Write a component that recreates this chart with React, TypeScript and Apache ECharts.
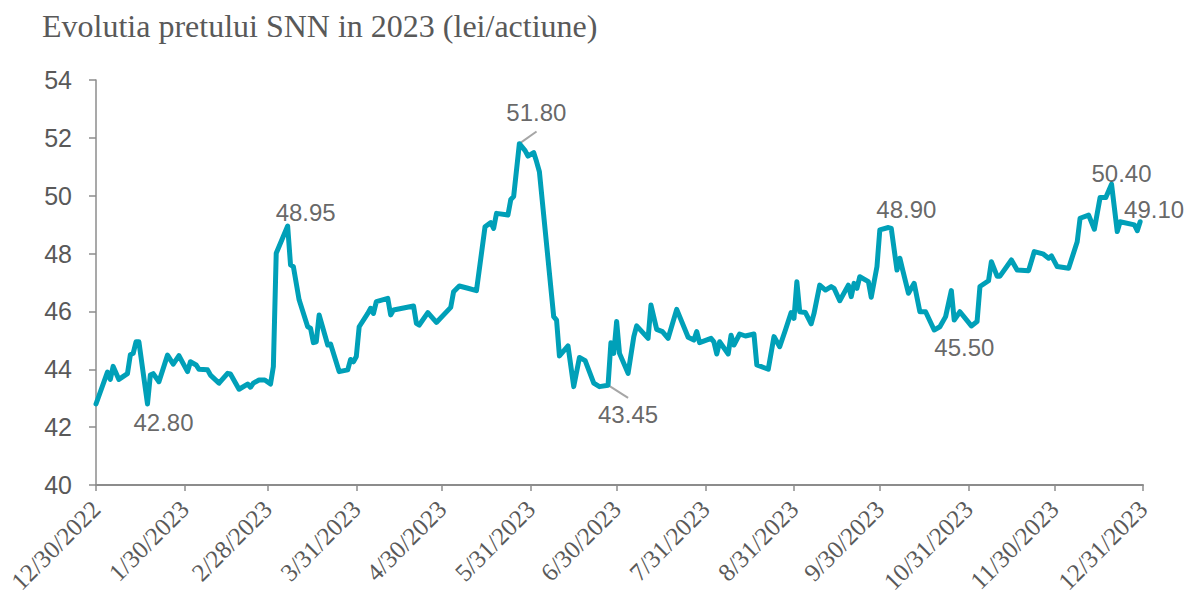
import React, { useEffect, useRef } from "react";
import * as echarts from "echarts";

// Trading-day offsets (days since 12/30/2022) and closing prices (lei/actiune)
const dayOffsets: number[] = [
  0, 4, 5, 6, 8, 11, 12, 13, 14, 15, 18, 19, 20, 22, 25, 27, 29, 32, 33, 35,
  36, 39, 40, 43, 46, 47, 50, 53, 54, 55, 57, 59, 61, 62, 63, 67, 68, 69, 71, 74,
  75, 76, 77, 78, 81, 82, 85, 88, 89, 90, 91, 92, 95, 96, 97, 98, 102, 103, 104, 111,
  112, 113, 116, 119, 124, 125, 127, 130, 133, 136, 138, 139, 140, 144, 145, 146, 148, 150, 151, 153,
  154, 155, 160, 161, 162, 165, 167, 169, 171, 174, 176, 179, 180, 181, 182, 183, 186, 188, 189, 193,
  194, 196, 198, 200, 203, 207, 209, 210, 211, 215, 216, 217, 218, 221, 222, 223, 225, 227, 230, 231,
  235, 237, 239, 241, 243, 244, 245, 246, 248, 250, 251, 253, 255, 257, 258, 260, 263, 264, 265, 266,
  267, 270, 271, 273, 274, 277, 278, 280, 281, 282, 284, 286, 288, 290, 293, 295, 297, 299, 300, 302,
  306, 308, 309, 312, 313, 315, 316, 320, 322, 326, 328, 331, 333, 334, 336, 340, 343, 344, 347, 349,
  351, 353, 355, 357, 358, 363, 364, 365,
];
const prices: number[] = [
  42.8, 43.9, 43.65, 44.1, 43.65, 43.85, 44.5, 44.55, 44.95, 44.95, 42.8, 43.8, 43.85, 43.57, 44.49, 44.18, 44.47, 43.92, 44.26, 44.15,
  44.0, 43.98, 43.8, 43.52, 43.86, 43.84, 43.31, 43.49, 43.38, 43.52, 43.63, 43.63, 43.49, 44.09, 48.01, 48.95, 47.61, 47.55, 46.4, 45.47,
  45.42, 44.92, 44.95, 45.88, 44.84, 44.87, 43.92, 43.98, 44.34, 44.26, 44.44, 45.47, 45.93, 46.11, 45.93, 46.34, 46.45, 45.88, 46.05, 46.19,
  45.59, 45.53, 45.96, 45.62, 46.14, 46.68, 46.88, 46.8, 46.72, 48.93, 49.07, 48.87, 49.39, 49.33, 49.87, 49.97, 51.8, 51.56, 51.37, 51.49,
  51.18, 50.83, 45.82, 45.7, 44.46, 44.81, 43.4, 44.41, 44.3, 43.52, 43.4, 43.45, 44.92, 44.55, 45.65, 44.55, 43.86, 45.13, 45.5, 45.07,
  46.22, 45.38, 45.3, 45.07, 46.07, 45.11, 45.01, 45.3, 44.92, 45.07, 44.95, 44.53, 44.95, 44.53, 45.18, 44.84, 45.22, 45.15, 45.22, 44.15,
  44.0, 45.13, 44.78, 45.36, 45.96, 45.76, 47.03, 45.99, 45.96, 45.57, 45.93, 46.91, 46.74, 46.86, 46.8, 46.37, 46.91, 46.51, 46.97, 46.8,
  47.2, 47.03, 46.49, 47.55, 48.82, 48.9, 48.87, 47.43, 47.84, 47.43, 46.63, 46.97, 45.99, 45.99, 45.36, 45.47, 45.82, 46.72, 45.7, 45.99,
  45.5, 45.65, 46.86, 47.06, 47.72, 47.22, 47.22, 47.78, 47.43, 47.41, 48.07, 47.99, 47.84, 47.92, 47.55, 47.49, 48.41, 49.22, 49.33, 48.84,
  49.94, 49.94, 50.4, 48.76, 49.1, 48.99, 48.79, 49.1,
];

// x-axis ticks (day offsets) and their labels
const tickDays: number[] = [0, 31, 60, 91, 121, 152, 182, 213, 244, 274, 305, 335, 366];
const tickLabels: string[] = [
  "12/30/2022", "1/30/2023", "2/28/2023", "3/31/2023", "4/30/2023", "5/31/2023", "6/30/2023",
  "7/31/2023", "8/31/2023", "9/30/2023", "10/31/2023", "11/30/2023", "12/31/2023",
];

// annotated points (by day offset)
const labelledDays: number[] = [18, 67, 148, 179, 277, 306, 355, 365];

const TITLE = "Evolutia pretului SNN in 2023 (lei/actiune)";

export default function App() {
  const ref = useRef<HTMLDivElement>(null);

  useEffect(() => {
    document.body.style.margin = "0";
    if (!ref.current) return;
    const chart = echarts.init(ref.current, null, { renderer: "svg" });

    const lineData = dayOffsets.map((d, i) => [d, prices[i]]);

    const labelCfg: Record<number, any> = {
      18: { position: "bottom", distance: 6, offset: [16, 0] },
      67: { position: "top", distance: 2, offset: [18, 0] },
      148: { position: "top", distance: 19, offset: [17, 0] },
      179: { position: "bottom", distance: 17, offset: [20, 0] },
      277: { position: "top", distance: 6, offset: [18, 0] },
      306: { position: "bottom", distance: 10, offset: [-7, 0] },
      355: { position: "top", distance: 0, offset: [10, 1] },
      365: { position: "top", distance: 0, offset: [14, 0] },
    };

    const scatterData = labelledDays.map((d) => {
      const i = dayOffsets.indexOf(d);
      return {
        value: [d, prices[i]],
        label: { show: true, ...labelCfg[d] },
      };
    });

    // leader lines for 51.80 and 43.45
    const leaderLines = [148, 179].map((d) => {
      const i = dayOffsets.indexOf(d);
      return { day: d, value: prices[i] };
    });

    chart.setOption({
      animation: false,
      backgroundColor: "#ffffff",
      title: {
        text: TITLE,
        left: 37,
        top: 5,
        textStyle: {
          fontFamily: "Liberation Serif",
          fontSize: 32,
          fontWeight: "normal",
          color: "#595959",
        },
      },
      grid: { left: 96, right: 44, top: 80, bottom: 117, containLabel: false },
      xAxis: {
        type: "value",
        min: 0,
        max: 366,
        splitLine: { show: false },
        axisLine: { onZero: false, lineStyle: { color: "#8c8c8c", width: 2 } },
        axisTick: {
          show: true,
          length: 6,
          customValues: tickDays,
          lineStyle: { color: "#8c8c8c", width: 1.5 },
        },
        axisLabel: {
          customValues: tickDays,
          formatter: (v: number) => {
            const idx = tickDays.indexOf(Math.round(v));
            return idx >= 0 ? tickLabels[idx] : "";
          },
          rotate: 45,
          margin: 20,
          fontFamily: "Liberation Serif",
          fontSize: 25,
          color: "#595959",
        },
      },
      yAxis: {
        type: "value",
        min: 40,
        max: 54,
        interval: 2,
        splitLine: { show: false },
        axisLine: { show: true, lineStyle: { color: "#8c8c8c", width: 1.5 } },
        axisTick: { show: true, length: 7, lineStyle: { color: "#8c8c8c", width: 1.5 } },
        axisLabel: {
          margin: 24,
          fontFamily: "Liberation Sans",
          fontSize: 25,
          color: "#595959",
        },
      },
      series: [
        {
          type: "line",
          data: lineData,
          showSymbol: false,
          lineStyle: { color: "#00A0B8", width: 5, join: "round", cap: "round" },
          itemStyle: { color: "#00A0B8" },
          z: 2,
        },
        {
          type: "scatter",
          data: scatterData,
          symbolSize: 0,
          label: {
            show: true,
            formatter: (p: any) => p.value[1].toFixed(2),
            fontFamily: "Liberation Sans",
            fontSize: 24,
            color: "#404040",
          },
          z: 3,
        },
        {
          type: "lines",
          coordinateSystem: "cartesian2d",
          data: leaderLines.map((l) =>
            l.day === 148
              ? { coords: [[l.day, l.value], [l.day + 6, l.value + 0.42]] }
              : { coords: [[l.day, l.value], [l.day + 7, l.value - 0.44]] }
          ),
          lineStyle: { color: "#a6a6a6", width: 2, opacity: 1 },
          z: 1,
        },
      ],
    });

    return () => chart.dispose();
  }, []);

  return <div ref={ref} style={{ width: 1187, height: 602 }} />;
}
